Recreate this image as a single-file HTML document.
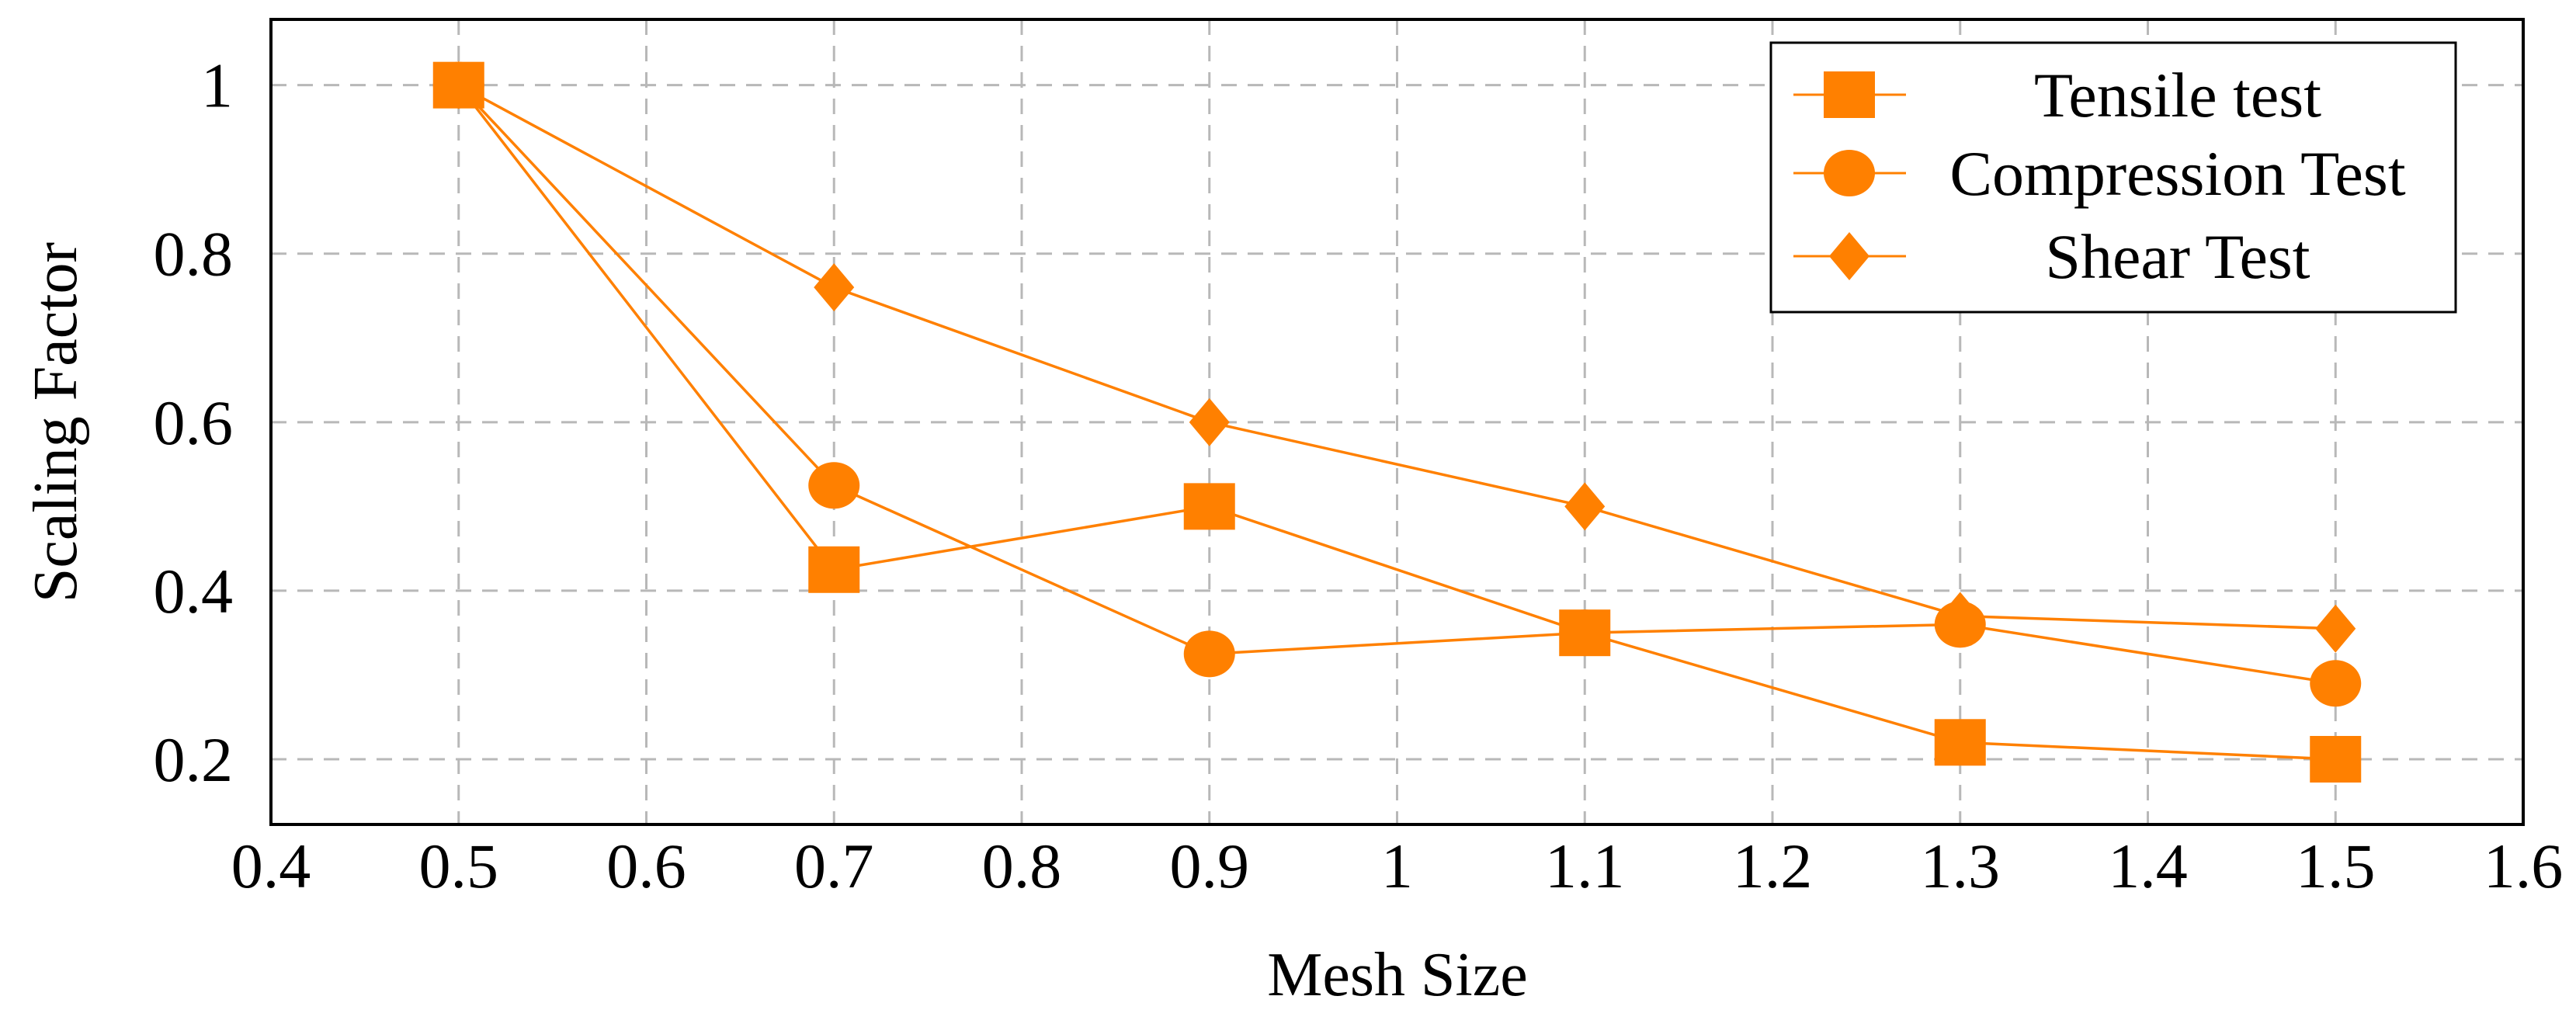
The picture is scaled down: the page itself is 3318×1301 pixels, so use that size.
<!DOCTYPE html>
<html><head><meta charset="utf-8"><style>
html,body{margin:0;padding:0;background:#fff;}
svg text{font-family:'Liberation Serif','DejaVu Serif',serif !important;fill:#000;}
</style></head><body>
<svg id="chart" width="3318" height="1296" viewBox="0 0 3318 1296" xmlns="http://www.w3.org/2000/svg">
<g id="grid"></g>
<g id="series"></g>
<rect x="349" y="25" width="2901" height="1037" fill="none" stroke="#000" stroke-width="4"/>
<g id="ticks"></g>
<text x="1800" y="1282" font-size="80" text-anchor="middle">Mesh Size</text>
<text transform="translate(98,544) rotate(-90)" font-size="80" text-anchor="middle">Scaling Factor</text>
<g id="legend">
<rect x="2281" y="55" width="882" height="347" fill="#fff" stroke="#000" stroke-width="3"/>
</g>
</svg>
<script>
const xValues=[0.5,0.7,0.9,1.1,1.3,1.5];
const tensile=[1,0.425,0.5,0.35,0.22,0.2];
const compression=[1,0.525,0.325,0.35,0.36,0.29];
const shear=[1,0.76,0.6,0.5,0.37,0.355];
const seriesNames=["Tensile test","Compression Test","Shear Test"];
const xTicks=[0.4,0.5,0.6,0.7,0.8,0.9,1,1.1,1.2,1.3,1.4,1.5,1.6];
const yTicks=[0.2,0.4,0.6,0.8,1];
const NS="http://www.w3.org/2000/svg";
const X0=349,X1=3250,Y0=1062,Y1=25,xmin=0.4,xmax=1.6,ymin=0.1226,ymax=1.078;
const sx=v=>X0+(v-xmin)/(xmax-xmin)*(X1-X0);
const sy=v=>Y0-(v-ymin)/(ymax-ymin)*(Y0-Y1);
const OR="#ff8000";
function mk(tag,at,parent){const e=document.createElementNS(NS,tag);for(const k in at)e.setAttribute(k,at[k]);parent.appendChild(e);return e;}
const grid=document.getElementById('grid'),ticks=document.getElementById('ticks');
xTicks.forEach(t=>{
  const x=sx(t);
  if(t>xmin+1e-9&&t<xmax-1e-9){const l=mk('line',{x1:x,x2:x,y1:Y1,y2:Y0,stroke:'#b8b8b8','stroke-width':3,'stroke-dasharray':'20 14'},grid);
  
  }
  const tx=mk('text',{x:x,y:1143,'font-size':82,'text-anchor':'middle'},ticks);
  tx.textContent=String(t);
  
  
});
yTicks.forEach(t=>{
  const y=sy(t);
  const l=mk('line',{x1:X0,x2:X1,y1:y,y2:y,stroke:'#b8b8b8','stroke-width':3,'stroke-dasharray':'20 14'},grid);
  
  
  const tx=mk('text',{x:300,y:y+28,'font-size':82,'text-anchor':'end'},ticks);
  tx.textContent=String(t);
  
  
});
function marker(type,x,y,parent){
  let e;
  if(type===0)e=mk('rect',{x:x-33,y:y-30,width:66,height:60,fill:OR},parent);
  else if(type===1)e=mk('ellipse',{cx:x,cy:y,rx:33,ry:30,fill:OR},parent);
  else e=mk('polygon',{points:`${x},${y-31} ${x+26},${y} ${x},${y+31} ${x-26},${y}`,fill:OR},parent);
  return e;
}
const sg=document.getElementById('series');
[tensile,compression,shear].forEach((vals,i)=>{
  const g=mk('g',{},sg);
  
  
  const p=mk('polyline',{points:vals.map((v,j)=>sx(xValues[j])+','+sy(v)).join(' '),fill:'none',stroke:OR,'stroke-width':3.5},g);
  
  
  vals.forEach((v,j)=>{const m=marker(i,sx(xValues[j]),sy(v),g);
    
    });
});
const lg=document.getElementById('legend');
const ly=[122,223,330];
seriesNames.forEach((n,i)=>{
  const g=mk('g',{},lg);
  
  
  mk('line',{x1:2310,x2:2455,y1:ly[i],y2:ly[i],stroke:OR,'stroke-width':3},g);
  marker(i,2382,ly[i],g);
  const t=mk('text',{x:2805,y:ly[i]+28,'font-size':82,'text-anchor':'middle'},g);
  t.textContent=n;
});
</script>
</body></html>
